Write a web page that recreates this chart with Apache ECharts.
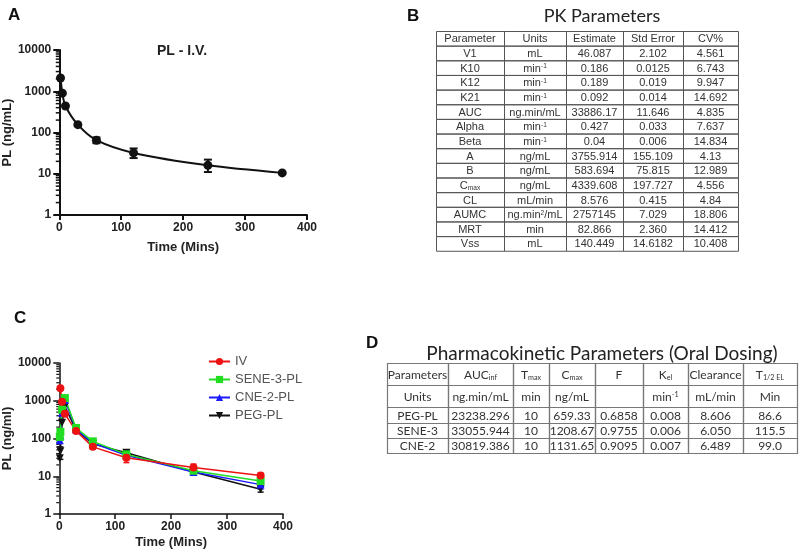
<!DOCTYPE html>
<html><head><meta charset="utf-8">
<script src="https://cdn.jsdelivr.net/npm/echarts@6/dist/echarts.min.js"></script>
<style>html,body{margin:0;padding:0;background:#fff}#c{width:800px;height:552px}</style>
</head><body><div id="c"></div><script>
// ---------- DATA ----------
// Panel A: PL - I.V.
const ivTimeA = [2, 5, 10, 30, 60, 120, 240, 360];
const ivValA = [2100, 900, 440, 155, 65, 32, 16, 10.5];
const ivErrTimeA = [60, 120, 240];
const ivErrLowA = [55, 24, 11];
const ivErrHighA = [76, 41, 22];

// Panel C
const ivTimeC = [2, 5, 10, 30, 60, 120, 240, 360];
const ivValC = [2150, 940, 450, 158, 60, 31, 17, 10.5];
const oralTime = [1, 2, 5, 10, 30, 60, 120, 240, 360];
const sene3Val = [110, 150, 580, 1180, 190, 84, 38, 14, 7.5];
const cne2Val = [90, 120, 480, 1050, 175, 76, 36, 13, 6.0];
const pegVal = [30, 46, 260, 700, 170, 72, 42, 13, 4.5];
const ivErrTimeC = [60, 120, 240, 360];
const ivErrLowC = [52, 23, 13, 9.2];
const ivErrHighC = [70, 40, 21, 12];
const pegErrTimeC = [2, 120, 360];
const pegErrLowC = [28, 36, 3.8];
const pegErrHighC = [60, 48, 5.2];
const cneErrTimeC = [360];
const cneErrLowC = [4.6];
const cneErrHighC = [7.2];
const seneErrTimeC = [1, 10, 60];
const seneErrLowC = [95, 950, 76];
const seneErrHighC = [130, 1350, 92];

const seriesNamesC = ['IV', 'SENE-3-PL', 'CNE-2-PL', 'PEG-PL'];

// Axes
const xTickVals = [0, 100, 200, 300, 400];
const yTickVals = [1, 10, 100, 1000, 10000];
const minorMultipliers = [2, 3, 4, 5, 6, 7, 8, 9];

// Table B
const pkHeader = ['Parameter', 'Units', 'Estimate', 'Std Error', 'CV%'];
const pkParam = ['V1', 'K10', 'K12', 'K21', 'AUC', 'Alpha', 'Beta', 'A', 'B', 'C_{max}', 'CL', 'AUMC', 'MRT', 'Vss'];
const pkUnits = ['mL', 'min^{-1}', 'min^{-1}', 'min^{-1}', 'ng.min/mL', 'min^{-1}', 'min^{-1}', 'ng/mL', 'ng/mL', 'ng/mL', 'mL/min', 'ng.min^{2}/mL', 'min', 'mL'];
const pkEstimate = ['46.087', '0.186', '0.189', '0.092', '33886.17', '0.427', '0.04', '3755.914', '583.694', '4339.608', '8.576', '2757145', '82.866', '140.449'];
const pkStdErr = ['2.102', '0.0125', '0.019', '0.014', '11.646', '0.033', '0.006', '155.109', '75.815', '197.727', '0.415', '7.029', '2.360', '14.6182'];
const pkCV = ['4.561', '6.743', '9.947', '14.692', '4.835', '7.637', '14.834', '4.13', '12.989', '4.556', '4.84', '18.806', '14.412', '10.408'];

// Table D
const oralHeader = ['Parameters', 'AUC_{inf}', 'T_{max}', 'C_{max}', 'F', 'K_{el}', 'Clearance', 'T_{1/2 EL}'];
const oralUnits = ['Units', 'ng.min/mL', 'min', 'ng/mL', '', 'min^{-1}', 'mL/min', 'Min'];
const oralPEG = ['PEG-PL', '23238.296', '10', '659.33', '0.6858', '0.008', '8.606', '86.6'];
const oralSENE = ['SENE-3', '33055.944', '10', '1208.67', '0.9755', '0.006', '6.050', '115.5'];
const oralCNE = ['CNE-2', '30819.386', '10', '1131.65', '0.9095', '0.007', '6.489', '99.0'];

// ---------- BUILD ----------
const zip = (a, b) => a.map((v, i) => [v, b[i]]);
const zip3 = (a, b, c) => a.map((v, i) => [v, b[i], c[i]]);
const minorVals = [];
yTickVals.slice(0, -1).forEach(d => minorMultipliers.forEach(m => minorVals.push([0, d * m])));

const F = 'Liberation Sans, Arial, sans-serif';
const TF = 'Lato, Carlito, sans-serif';

function errRender(capW, color, lw) {
  return function (params, api) {
    const x = api.value(0), lo = api.value(1), hi = api.value(2);
    const p1 = api.coord([x, lo]), p2 = api.coord([x, hi]);
    const st = { stroke: color, lineWidth: lw };
    return { type: 'group', children: [
      { type: 'line', shape: { x1: p1[0], y1: p1[1], x2: p2[0], y2: p2[1] }, style: st },
      { type: 'line', shape: { x1: p1[0] - capW, y1: p1[1], x2: p1[0] + capW, y2: p1[1] }, style: st },
      { type: 'line', shape: { x1: p2[0] - capW, y1: p2[1], x2: p2[0] + capW, y2: p2[1] }, style: st }
    ] };
  };
}
function minorRender(len, lw) {
  return function (params, api) {
    const p = api.coord([api.value(0), api.value(1)]);
    return { type: 'line', shape: { x1: p[0] - len, y1: p[1], x2: p[0], y2: p[1] }, style: { stroke: '#111', lineWidth: lw } };
  };
}

function xAxisDef(grid, nameGap, lw) {
  return {
    type: 'value', gridIndex: grid, min: xTickVals[0], max: xTickVals[xTickVals.length - 1], interval: 100,
    axisLine: { show: true, onZero: false, lineStyle: { color: '#111', width: lw } },
    axisTick: { show: true, inside: false, length: 5, lineStyle: { color: '#111', width: lw } },
    axisLabel: { fontSize: 12, fontWeight: 'bold', color: '#222', fontFamily: F, margin: 7 },
    splitLine: { show: false },
    name: 'Time (Mins)', nameLocation: 'middle', nameGap: nameGap,
    nameTextStyle: { fontSize: 13, fontWeight: 'bold', color: '#222', fontFamily: F }
  };
}
function yAxisDef(grid, name, nameGap, lw) {
  return {
    type: 'log', logBase: 10, gridIndex: grid, min: yTickVals[0], max: yTickVals[yTickVals.length - 1],
    axisLine: { show: true, onZero: false, lineStyle: { color: '#111', width: lw } },
    axisTick: { show: true, inside: false, length: 6, lineStyle: { color: '#111', width: lw } },
    axisLabel: { fontSize: 12, fontWeight: 'bold', color: '#222', fontFamily: F, margin: 8,
      formatter: v => String(Math.round(v)) },
    splitLine: { show: false }, minorTick: { show: false },
    name: name, nameLocation: 'middle', nameGap: nameGap, nameRotate: 90,
    nameTextStyle: { fontSize: 13, fontWeight: 'bold', color: '#222', fontFamily: F }
  };
}

function lineSeries(name, times, vals, color, symbol, size, extra) {
  return Object.assign({
    type: 'line', name: name, xAxisIndex: 1, yAxisIndex: 1, data: zip(times, vals),
    symbol: symbol, symbolSize: size, itemStyle: { color: color }, lineStyle: { color: color, width: 1.5 },
    z: 3, animation: false
  }, extra || {});
}
function errSeries(grid, times, lo, hi, color, capW, lw) {
  return { type: 'custom', xAxisIndex: grid, yAxisIndex: grid, data: zip3(times, lo, hi),
    encode: { x: 0, y: [1, 2] }, renderItem: errRender(capW, color, lw), silent: true, z: 2, animation: false };
}

// Tables via graphic
function cellText(s) {
  return s.replace(/_\{([^}]*)\}/g, '{sub|$1}').replace(/\^\{([^}]*)\}/g, '{sup|$1}');
}
function buildTable(colEdges, rowEdges, rows, font, size, stroke, lw, color) {
  const els = [];
  for (let r = 0; r < rows.length; r++) {
    for (let c = 0; c < colEdges.length - 1; c++) {
      const x0 = colEdges[c], x1 = colEdges[c + 1], y0 = rowEdges[r], y1 = rowEdges[r + 1];
      els.push({ type: 'rect', shape: { x: x0 + 0.5, y: y0 + 0.5, width: x1 - x0, height: y1 - y0 },
        style: { fill: 'none', stroke: stroke, lineWidth: lw }, silent: true });
      const t = rows[r][c];
      if (t) {
        els.push({ type: 'text', x: (x0 + x1) / 2, y: (y0 + y1) / 2 + 1,
          style: { text: cellText(t), fontSize: size, fontFamily: font, fill: color, align: 'center', verticalAlign: 'middle',
            rich: { sub: { fontSize: size * 0.6, fontFamily: font, fill: color, verticalAlign: 'bottom', padding: [4, 0, 0, 0] },
                    sup: { fontSize: size * 0.6, fontFamily: font, fill: color, verticalAlign: 'top', padding: [0, 0, 4, 0] } } },
          silent: true });
      }
    }
  }
  return els;
}

const pkRows = [pkHeader].concat(pkParam.map((p, i) => [p, pkUnits[i], pkEstimate[i], pkStdErr[i], pkCV[i]]));
const pkRowEdges = [];
for (let i = 0; i <= pkRows.length; i++) pkRowEdges.push(31 + i * 14.65);
const tableB = buildTable([436, 504, 566, 623, 683, 738], pkRowEdges, pkRows, F, 11, '#555', 1, '#333');

const oralRows = [oralHeader, oralUnits, oralPEG, oralSENE, oralCNE];
const tableD = buildTable([387, 448, 513, 549, 595, 643, 688, 743, 797], [363, 385, 407, 423, 438, 453], oralRows, TF, 12, '#777', 1.2, '#333');

const labels = [
  { type: 'text', x: 8, y: 7, style: { text: 'A', fontSize: 17, fontWeight: 'bold', fontFamily: F, fill: '#111' } },
  { type: 'text', x: 407, y: 8, style: { text: 'B', fontSize: 17, fontWeight: 'bold', fontFamily: F, fill: '#111' } },
  { type: 'text', x: 14, y: 310, style: { text: 'C', fontSize: 17, fontWeight: 'bold', fontFamily: F, fill: '#111' } },
  { type: 'text', x: 366, y: 335, style: { text: 'D', fontSize: 17, fontWeight: 'bold', fontFamily: F, fill: '#111' } },
  { type: 'text', x: 182, y: 51, style: { text: 'PL - I.V.', fontSize: 14, fontWeight: 'bold', fontFamily: F, fill: '#222', align: 'center', verticalAlign: 'middle' } },
  { type: 'text', x: 602, y: 16, style: { text: 'PK Parameters', fontSize: 18, fontFamily: TF, fill: '#222', align: 'center', verticalAlign: 'middle' } },
  { type: 'text', x: 602, y: 354, style: { text: 'Pharmacokinetic Parameters (Oral Dosing)', fontSize: 19, fontFamily: TF, fill: '#222', align: 'center', verticalAlign: 'middle' } }
];

const option = {
  animation: false,
  backgroundColor: '#fff',
  grid: [
    { left: 58, top: 50, width: 249, height: 165 },
    { left: 59, top: 363, width: 224, height: 151 }
  ],
  xAxis: [xAxisDef(0, 26, 2), xAxisDef(1, 22, 1.5)],
  yAxis: [yAxisDef(0, 'PL (ng/mL)', 38, 2), yAxisDef(1, 'PL (ng/ml)', 35, 1.5)],
  legend: {
    data: seriesNamesC, orient: 'vertical', left: 203, top: 350, itemWidth: 21, itemHeight: 9, itemGap: 5,
    textStyle: { fontSize: 13, color: '#555', fontFamily: F }
  },
  series: [
    { type: 'custom', xAxisIndex: 0, yAxisIndex: 0, data: minorVals, encode: { x: 0, y: 1 }, renderItem: minorRender(3.5, 1.5), silent: true, clip: false, animation: false },
    { type: 'custom', xAxisIndex: 1, yAxisIndex: 1, data: minorVals, encode: { x: 0, y: 1 }, renderItem: minorRender(3, 1.2), silent: true, clip: false, animation: false },
    errSeries(0, ivErrTimeA, ivErrLowA, ivErrHighA, '#111', 4, 2),
    { type: 'line', name: 'PL-IV', xAxisIndex: 0, yAxisIndex: 0, data: zip(ivTimeA, ivValA), symbol: 'circle', symbolSize: 9,
      smooth: 0.3, itemStyle: { color: '#111' }, lineStyle: { color: '#111', width: 2 }, z: 3, animation: false },
    errSeries(1, pegErrTimeC, pegErrLowC, pegErrHighC, '#111', 3, 1.5),
    errSeries(1, cneErrTimeC, cneErrLowC, cneErrHighC, '#1a1aff', 3, 1.5),
    errSeries(1, seneErrTimeC, seneErrLowC, seneErrHighC, '#22dd22', 3, 1.5),
    errSeries(1, ivErrTimeC, ivErrLowC, ivErrHighC, '#ee1111', 3, 1.5),
    lineSeries('PEG-PL', oralTime, pegVal, '#111111', 'triangle', 8, { symbolRotate: 180 }),
    lineSeries('CNE-2-PL', oralTime, cne2Val, '#1a1aff', 'triangle', 8),
    lineSeries('SENE-3-PL', oralTime, sene3Val, '#22dd22', 'rect', 8),
    lineSeries('IV', ivTimeC, ivValC, '#ee1111', 'circle', 8)
  ],
  graphic: labels.concat(tableB, tableD)
};

const chart = echarts.init(document.getElementById('c'), null, { renderer: 'canvas' });
chart.setOption(option);
</script></body></html>
